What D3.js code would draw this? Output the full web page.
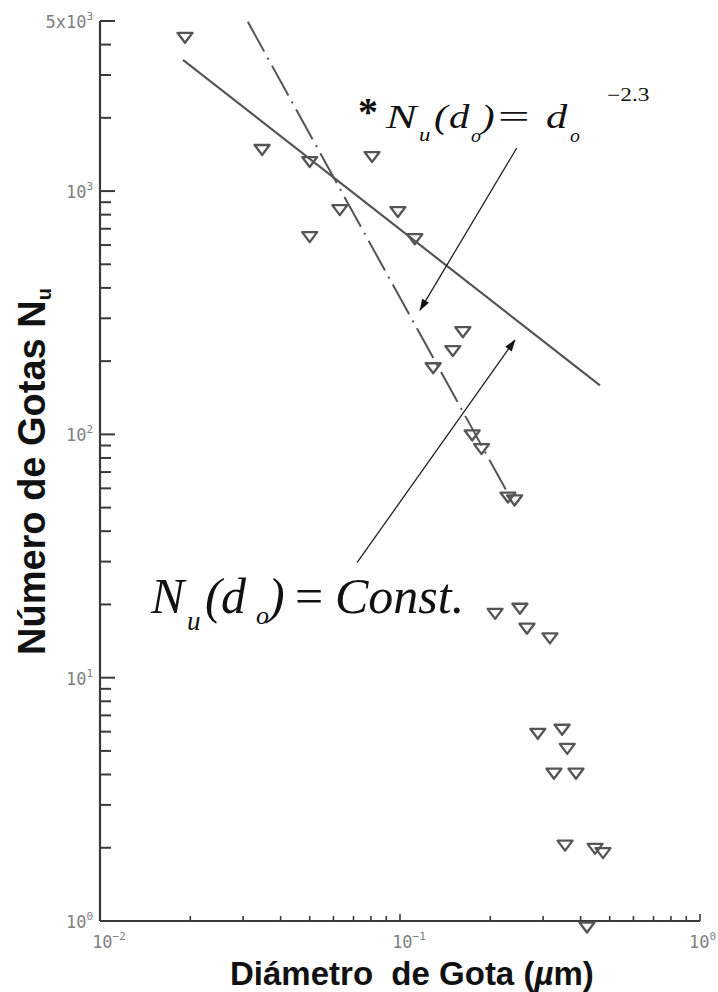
<!DOCTYPE html>
<html>
<head>
<meta charset="utf-8">
<script src="https://cdn.jsdelivr.net/npm/d3@7"></script>
<style>
  body { margin: 0; background: #fff; }
  svg { display: block; }
</style>
</head>
<body>
<svg id="chart" width="718" height="992"></svg>
<script>
// droplet diameter (µm) and number of droplets
const diam  = [0.0192, 0.0347, 0.050, 0.0807, 0.063, 0.0984, 0.112, 0.050,
               0.162, 0.150, 0.129, 0.174, 0.187, 0.229, 0.241,
               0.2075, 0.251, 0.265, 0.316, 0.288, 0.347, 0.361, 0.326, 0.386,
               0.355, 0.447, 0.475, 0.42];
const count = [4265, 1475, 1316, 1380, 835, 820, 634, 647,
               263, 220, 187, 99, 87, 55, 53.5,
               18.3, 19.2, 15.9, 14.5, 5.88, 6.11, 5.1, 4.03, 4.03,
               2.04, 1.98, 1.9, 0.94];

// solid fit line and dash-dot line (end points)
const fitDiam   = [0.0189, 0.464];
const fitCount  = [3460, 159];
const dashDiam  = [0.0311, 0.236];
const dashCount = [4960, 53.5];

// annotation arrows: [from, to] in data units
const arrowA = [[0.245, 1503], [0.1166, 324]];
const arrowB = [[0.0719, 29.7], [0.2415, 244]];

// tick labels
const yMajor  = [1, 10, 100, 1000, 5000];
const yLabels = [["10", "0"], ["10", "1"], ["10", "2"], ["10", "3"], ["5x10", "3"]];
const xMajor  = [0.01, 0.1, 1];
const xLabels = [["10", "\u22122"], ["10", "\u22121"], ["10", "0"]];

const svg = d3.select("#chart");

const x = d3.scaleLog().domain([0.01, 1]).range([100, 700]);
const y = d3.scaleLog().domain([1, 5000]).range([921, 21]);

const axisColor = "#3a3a3a";
const tickFont = "'DejaVu Sans Mono', 'Liberation Mono', monospace";

// axis lines
svg.append("line")
    .attr("x1", x(0.01)).attr("x2", x(0.01))
    .attr("y1", y(5000)).attr("y2", y(1))
    .attr("stroke", axisColor).attr("stroke-width", 2.2);
svg.append("line")
    .attr("x1", x(0.01)).attr("x2", x(1))
    .attr("y1", y(1)).attr("y2", y(1))
    .attr("stroke", axisColor).attr("stroke-width", 2.2);

// y ticks (inward)
svg.append("g").selectAll("line")
    .data(y.ticks())
    .join("line")
    .attr("x1", x(0.01))
    .attr("x2", d => x(0.01) + (yMajor.includes(d) ? 15 : 11))
    .attr("y1", d => y(d)).attr("y2", d => y(d))
    .attr("stroke", axisColor).attr("stroke-width", 2);

// x ticks (inward)
svg.append("g").selectAll("line")
    .data(x.ticks())
    .join("line")
    .attr("x1", d => x(d)).attr("x2", d => x(d))
    .attr("y1", y(1))
    .attr("y2", d => y(1) - (xMajor.includes(d) ? 7 : 5))
    .attr("stroke", axisColor).attr("stroke-width", 1.6);

// y tick labels
yMajor.forEach((v, i) => {
    const t = svg.append("text")
        .attr("x", 93)
        .attr("y", y(v) + 7)
        .attr("text-anchor", "end")
        .attr("font-family", tickFont)
        .attr("font-size", 17)
        .attr("fill", "#808080");
    t.append("tspan").text(yLabels[i][0]);
    t.append("tspan").attr("dy", -8).attr("font-size", 11).text(yLabels[i][1]);
});

// x tick labels
xMajor.forEach((v, i) => {
    const last = i === xMajor.length - 1;
    const t = svg.append("text")
        .attr("x", last ? 716 : x(v) + 9)
        .attr("y", y(1) + 27)
        .attr("text-anchor", last ? "end" : "middle")
        .attr("font-family", tickFont)
        .attr("font-size", 17)
        .attr("fill", "#808080");
    t.append("tspan").text(xLabels[i][0]);
    t.append("tspan").attr("dy", -8).attr("font-size", 11).text(xLabels[i][1]);
});

// lines
const line = d3.line().x(d => x(d[0])).y(d => y(d[1]));

svg.append("path")
    .datum(d3.zip(fitDiam, fitCount))
    .attr("d", line)
    .attr("fill", "none")
    .attr("stroke", "#555")
    .attr("stroke-width", 2.2);

svg.append("path")
    .datum(d3.zip(dashDiam, dashCount))
    .attr("d", line)
    .attr("fill", "none")
    .attr("stroke", "#555")
    .attr("stroke-width", 2)
    .attr("stroke-dasharray", "34,7,2,7");

// data points: open downward triangles
svg.append("g").selectAll("path")
    .data(d3.zip(diam, count))
    .join("path")
    .attr("transform", d => `translate(${x(d[0])},${y(d[1])})`)
    .attr("d", "M-7.5,-5L7.5,-5L0,5Z")
    .attr("fill", "none")
    .attr("stroke", "#555")
    .attr("stroke-width", 2.3)
    .attr("stroke-linejoin", "round");

// arrows
svg.append("defs").append("marker")
    .attr("id", "head")
    .attr("viewBox", "0 0 12 8")
    .attr("refX", 11).attr("refY", 4)
    .attr("markerWidth", 13).attr("markerHeight", 8)
    .attr("markerUnits", "userSpaceOnUse")
    .attr("orient", "auto")
    .append("path")
    .attr("d", "M0,0L12,4L0,8Z")
    .attr("fill", "#111");

[arrowA, arrowB].forEach(a => {
    svg.append("line")
        .attr("x1", x(a[0][0])).attr("y1", y(a[0][1]))
        .attr("x2", x(a[1][0])).attr("y2", y(a[1][1]))
        .attr("stroke", "#222")
        .attr("stroke-width", 1.3)
        .attr("marker-end", "url(#head)");
});

// equation labels, placed glyph by glyph
const serif = "'Liberation Serif', 'Times New Roman', serif";
function piece(str, px, py, size, italic, sx, bold) {
    svg.append("text")
        .attr("transform", `translate(${px},${py}) scale(${sx || 1},1)`)
        .attr("font-family", serif)
        .attr("font-size", size)
        .attr("font-style", italic ? "italic" : "normal")
        .attr("font-weight", bold ? "bold" : "normal")
        .attr("fill", "#111")
        .text(str);
}

// *N_u(d_o) = d_o^-2.3
piece("*", 358, 125, 40, false, 1, true);
piece("N", 386, 128, 34, true, 1.35);
piece("u", 419, 141, 19, true, 1.2);
piece("(", 434, 128, 34, true, 1.2);
piece("d", 449, 128, 34, true, 1.2);
piece("o", 471, 142, 18, true, 1.1);
piece(")", 481, 128, 34, true, 1.2);
piece("=", 498, 128, 34, false, 1.65);
piece("d", 546, 128, 34, true, 1.25);
piece("o", 570, 142, 18, true, 1.1);
piece("\u22122.3", 607, 101, 18, false, 1.3);

// N_u(d_o) = Const.
piece("N", 151, 613, 50, true);
piece("u", 187, 630, 27, true);
piece("(", 205, 613, 50, true);
piece("d", 221, 613, 50, true);
piece("o", 256, 624, 26, true);
piece(")", 268, 613, 50, true);
piece("=", 295, 613, 50, false);
piece("Const.", 335, 613, 50, true);

// axis titles
const sans = "'Liberation Sans', Arial, sans-serif";
const yt = svg.append("text")
    .attr("transform", "translate(45,655) rotate(-90)")
    .attr("font-family", sans)
    .attr("font-size", 38)
    .attr("font-weight", "bold")
    .attr("fill", "#111");
yt.append("tspan").text("Número de Gotas N");
yt.append("tspan").attr("dy", 6).attr("font-size", 20).text("u");

const xt = svg.append("text")
    .attr("x", 230)
    .attr("y", 985)
    .attr("font-family", sans)
    .attr("font-size", 33)
    .attr("font-weight", "bold")
    .attr("fill", "#111")
    .style("white-space", "pre");
xt.append("tspan").text("Diámetro  de Gota (");
xt.append("tspan").attr("font-style", "italic").text("µ");
xt.append("tspan").text("m)");
</script>
</body>
</html>
